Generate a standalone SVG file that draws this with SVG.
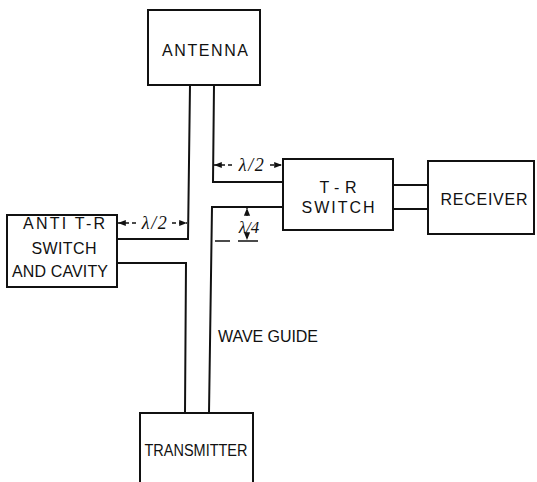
<svg xmlns="http://www.w3.org/2000/svg" width="537" height="482" viewBox="0 0 537 482">
<defs>
<style>
.box{fill:#fff;stroke:#111;stroke-width:2}
.wg{fill:none;stroke:#111;stroke-width:2}
.dim{fill:none;stroke:#111;stroke-width:1.3;stroke-dasharray:4 3}
.t{font-family:"Liberation Sans",Arial,sans-serif;font-size:16px;fill:#111;text-anchor:middle}
.l{font-family:"Liberation Serif","Times New Roman",serif;font-size:18px;font-style:italic;fill:#111;text-anchor:middle;letter-spacing:1.5px}
</style>
<marker id="ah" viewBox="0 0 10 10" refX="10" refY="5" markerWidth="6" markerHeight="6" orient="auto-start-reverse">
<path d="M0,1 L10,5 L0,9 Z" fill="#111"/>
</marker>
</defs>
<rect width="537" height="482" fill="#fff"/>
<g id="connectors">
<path class="wg" d="M190,85 L188,239 L117,239"/>
<path class="wg" d="M117,263 L186,263 L185,413"/>
<path class="wg" d="M214,85 L213,182 L283,182"/>
<path class="wg" d="M283,207 L212,207 L209,413"/>
<path class="wg" d="M393,185 L428,185 M393,209 L428,209"/>
<path class="dim" d="M214,165 L232,165 M270,165 L282,165" marker-start="url(#ah)" marker-end="url(#ah)"/>
<path class="dim" d="M118,223 L136,223 M172,223 L187,223" marker-start="url(#ah)" marker-end="url(#ah)"/>
<path class="dim" d="M247,216 L247,208" marker-end="url(#ah)"/>
<path class="dim" d="M247,234 L247,240" marker-end="url(#ah)"/>
<path fill="none" stroke="#111" stroke-width="1.3" d="M215,241 L230,241 M238,241 L258,241"/>
<text class="l" x="252" y="171">λ/2</text>
<text class="l" x="155" y="229">λ/2</text>
<text class="l" x="249" y="233" style="font-size:17px;letter-spacing:0">λ/4</text>
<text class="t" x="268" y="342" textLength="100">WAVE GUIDE</text>
</g>
<g id="antenna">
<rect class="box" x="148" y="10" width="112" height="75"/>
<text class="t" x="205" y="56" textLength="86">ANTENNA</text>
</g>
<g id="tr-switch">
<rect class="box" x="283" y="159" width="110" height="71"/>
<text class="t" x="338" y="193" textLength="37">T-R</text>
<text class="t" x="338" y="213" textLength="73">SWITCH</text>
</g>
<g id="receiver">
<rect class="box" x="428" y="161" width="106" height="73"/>
<text class="t" x="484" y="205" textLength="87">RECEIVER</text>
</g>
<g id="anti-tr">
<rect class="box" x="7" y="215" width="110" height="72"/>
<text class="t" x="64" y="229" textLength="82">ANTI T-R</text>
<text class="t" x="64" y="254" textLength="65">SWITCH</text>
<text class="t" x="60" y="277" textLength="96">AND CAVITY</text>
</g>
<g id="transmitter">
<rect class="box" x="140" y="413" width="113" height="80"/>
<text class="t" x="196" y="456" textLength="103" lengthAdjust="spacingAndGlyphs">TRANSMITTER</text>
</g>
</svg>
